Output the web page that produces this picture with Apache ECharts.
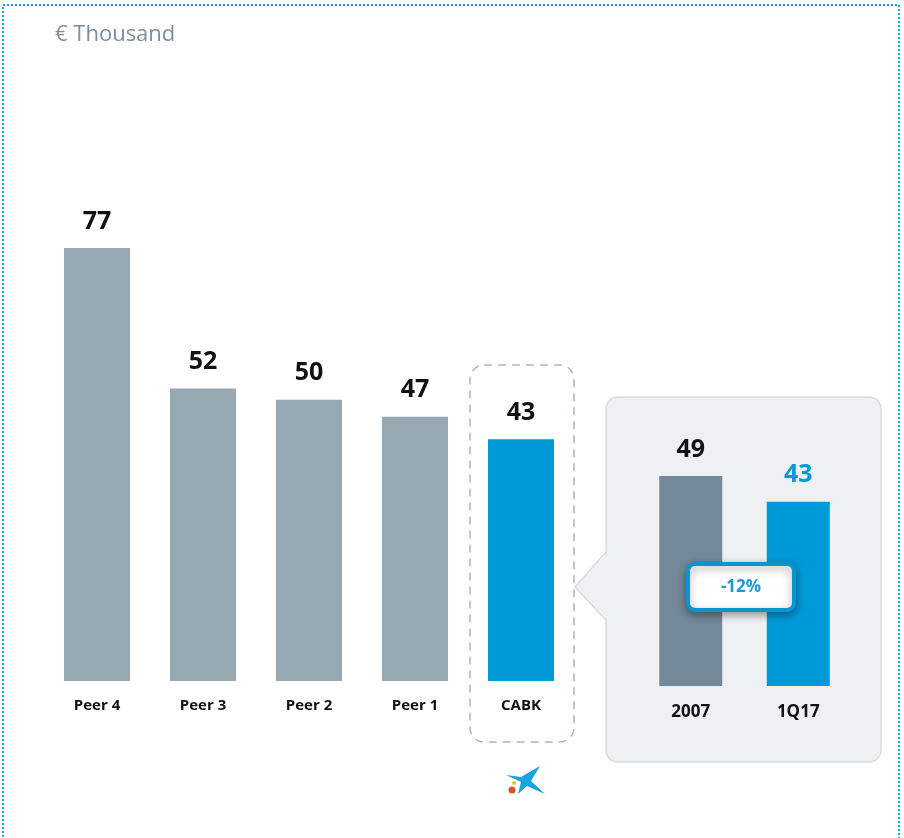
<!DOCTYPE html>
<html>
<head>
<meta charset="utf-8">
<title>€ Thousand</title>
<script src="https://cdn.jsdelivr.net/npm/echarts@6/dist/echarts.min.js"></script>
</head>
<body style="margin:0;background:#fff;">
<div id="main" style="width:904px;height:838px;"></div>
<script type="text/javascript">
// peers vs CABK
var categories = ['Peer 4', 'Peer 3', 'Peer 2', 'Peer 1', 'CABK'];
var values = [77, 52, 50, 47, 43];
// inset: CABK evolution
var insetCategories = ['2007', '1Q17'];
var insetValues = [49, 43];
var changeLabel = '-12%';

var GREY = '#97a9b3', BLUE = '#009ad8', DARK = '#738898';
var font = '"Open Sans", Lato, sans-serif';

var chart = echarts.init(document.getElementById('main'));

chart.setOption({
  animation: false,
  textStyle: { fontFamily: font },
  title: {
    text: '€ Thousand', left: 50, top: 19,
    textStyle: { color: '#7b8fa0', fontSize: 22, fontWeight: 'normal', fontFamily: font }
  },
  grid: [
    { left: 44, width: 530, top: 248, height: 433 },
    { left: 637, width: 215, top: 476, height: 210 }
  ],
  xAxis: [
    {
      gridIndex: 0, type: 'category', data: categories,
      axisLine: { show: false }, axisTick: { show: false },
      axisLabel: { margin: 17, fontSize: 15, fontWeight: 'bold', color: '#111' }
    },
    {
      gridIndex: 1, type: 'category', data: insetCategories,
      axisLine: { show: false }, axisTick: { show: false },
      axisLabel: { margin: 18, fontSize: 17, fontWeight: 'bold', color: '#111' }
    }
  ],
  yAxis: [
    { gridIndex: 0, type: 'value', min: 0, max: 77, show: false, splitLine: { show: false } },
    { gridIndex: 1, type: 'value', min: 0, max: 49, show: false, splitLine: { show: false } }
  ],
  series: [
    {
      type: 'bar', xAxisIndex: 0, yAxisIndex: 0, barWidth: 66,
      data: values.map(function (v, i) {
        return { value: v, itemStyle: { color: i === values.length - 1 ? BLUE : GREY } };
      }),
      label: { show: true, position: 'top', distance: 14, fontSize: 25, fontWeight: 'bold', color: '#111' }
    },
    {
      type: 'bar', xAxisIndex: 1, yAxisIndex: 1, barWidth: 63,
      data: insetValues.map(function (v, i) {
        return {
          value: v,
          itemStyle: { color: i === 0 ? DARK : BLUE },
          label: { color: i === 0 ? '#111' : BLUE }
        };
      }),
      label: { show: true, position: 'top', distance: 14, fontSize: 25, fontWeight: 'bold' }
    }
  ],
  graphic: [
    // dotted frame
    { type: 'rect', z: -10, shape: { x: 3, y: 5, width: 896, height: 860 },
      style: { fill: null, stroke: '#1aa3dc', lineWidth: 2, lineDash: [2, 2] } },
    // inset panel
    { type: 'rect', z: -5, shape: { x: 606, y: 397, width: 275, height: 365, r: 12 },
      style: { fill: '#eef1f3', stroke: '#d6dbde', lineWidth: 1.5 } },
    { type: 'polygon', z: -4, shape: { points: [[608, 552], [575, 587], [608, 620]] },
      style: { fill: '#eef1f3' } },
    { type: 'polyline', z: -4, shape: { points: [[606, 552], [575, 587], [606, 620]] },
      style: { fill: null, stroke: '#d6dbde', lineWidth: 1.5 } },
    // dashed box around CABK
    { type: 'rect', z: -3, shape: { x: 470, y: 365, width: 104, height: 377, r: 14 },
      style: { fill: null, stroke: '#a9b7c0', lineWidth: 1.5, lineDash: [8, 6] } },
    // change badge
    { type: 'rect', z: 50, shape: { x: 688, y: 564, width: 106, height: 46, r: 7 },
      style: { fill: '#fff', stroke: '#0a95cf', lineWidth: 4,
        shadowBlur: 8, shadowOffsetY: 3, shadowColor: 'rgba(0,0,0,0.35)' } },
    { type: 'text', z: 51, x: 741, y: 587,
      style: { text: changeLabel, fill: '#1a9ad6', font: 'bold 17px ' + font, align: 'center', verticalAlign: 'middle' } },
    // logo
    { type: 'polygon', z: 5,
      shape: { points: [[506, 775], [521, 777], [540, 766], [531, 781], [545, 794], [527, 786], [518, 794], [521, 782]] },
      style: { fill: '#1aa3dc' } },
    { type: 'circle', z: 5, shape: { cx: 514, cy: 783, r: 2 }, style: { fill: '#f2c21b' } },
    { type: 'circle', z: 5, shape: { cx: 512, cy: 790, r: 3.5 }, style: { fill: '#e0502a' } }
  ]
});
</script>
</body>
</html>
